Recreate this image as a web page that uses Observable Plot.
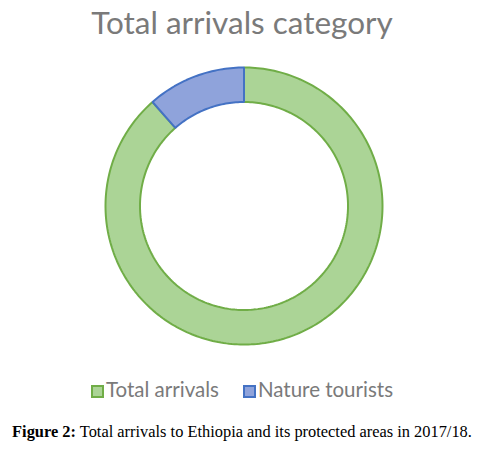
<!DOCTYPE html>
<html>
<head>
<meta charset="utf-8">
<script src="https://cdn.jsdelivr.net/npm/d3@7"></script>
<script src="https://cdn.jsdelivr.net/npm/@observablehq/plot@0.6"></script>
<style>
  html, body { margin: 0; padding: 0; background: #fff; }
  #wrap { position: relative; width: 484px; height: 454px; overflow: hidden; }
  #title { position: absolute; left: 0; top: 4px; width: 484px; text-align: center;
           font-family: Lato, "Open Sans", sans-serif; font-size: 31.5px; color: #7a7a7a; line-height: 36px; }
  #chart { position: absolute; left: 0; top: 55px; }
  #legend { position: absolute; left: 0; top: 376px; width: 484px; text-align: center;
            font-family: Lato, "Open Sans", sans-serif; font-size: 20.5px; color: #7a7a7a; line-height: 26px; }
  .item { display: inline-block; margin: 0 12px; }
  .sw { display: inline-block; width: 9px; height: 9px; border: 2px solid; margin-right: 2px; vertical-align: -1px; }
  #caption { position: absolute; left: 0; top: 422px; width: 484px; text-align: center;
             font-family: "Liberation Serif", serif; font-size: 16.4px; color: #000; line-height: 20px; white-space: nowrap; }
</style>
</head>
<body>
<div id="wrap">
  <div id="title"></div>
  <div id="chart"></div>
  <div id="legend"></div>
  <div id="caption"><b>Figure 2:</b> Total arrivals to Ethiopia and its protected areas in 2017/18.</div>
</div>
<script>
const titleText = "Total arrivals category";
const categories = ["Total arrivals", "Nature tourists"];
const values = [933344, 121000];
const fills = ["#abd496", "#8fa3db"];
const strokes = ["#70ad47", "#4472c4"];
const innerRatio = 0.751;

document.getElementById("title").textContent = titleText;

const pie = d3.pie().sort(null).startAngle(0).endAngle(2 * Math.PI)(values);
function ring(arc, cat) {
  const pts = [];
  const n = Math.max(8, Math.ceil((arc.endAngle - arc.startAngle) / 0.02));
  for (let i = 0; i <= n; i++) {
    const a = arc.startAngle + (arc.endAngle - arc.startAngle) * i / n;
    pts.push({cat, x: Math.sin(a), y: Math.cos(a)});
  }
  for (let i = n; i >= 0; i--) {
    const a = arc.startAngle + (arc.endAngle - arc.startAngle) * i / n;
    pts.push({cat, x: innerRatio * Math.sin(a), y: innerRatio * Math.cos(a)});
  }
  return pts;
}

const marks = pie.map((arc, i) =>
  Plot.line(ring(arc, categories[i]), {
    x: "x", y: "y", curve: "linear-closed",
    fill: fills[i], stroke: strokes[i], strokeWidth: 2, strokeLinejoin: "miter"
  })
);

const chart = Plot.plot({
  width: 484, height: 300,
  marginLeft: 105, marginRight: 102, marginTop: 12, marginBottom: 11,
  x: {domain: [-1, 1], axis: null},
  y: {domain: [-1, 1], axis: null},
  marks
});
document.getElementById("chart").append(chart);

const legend = document.getElementById("legend");
categories.forEach((c, i) => {
  const item = document.createElement("span");
  item.className = "item";
  const sw = document.createElement("span");
  sw.className = "sw";
  sw.style.background = fills[i];
  sw.style.borderColor = strokes[i];
  item.append(sw, document.createTextNode(c));
  legend.append(item);
});
</script>
</body>
</html>
